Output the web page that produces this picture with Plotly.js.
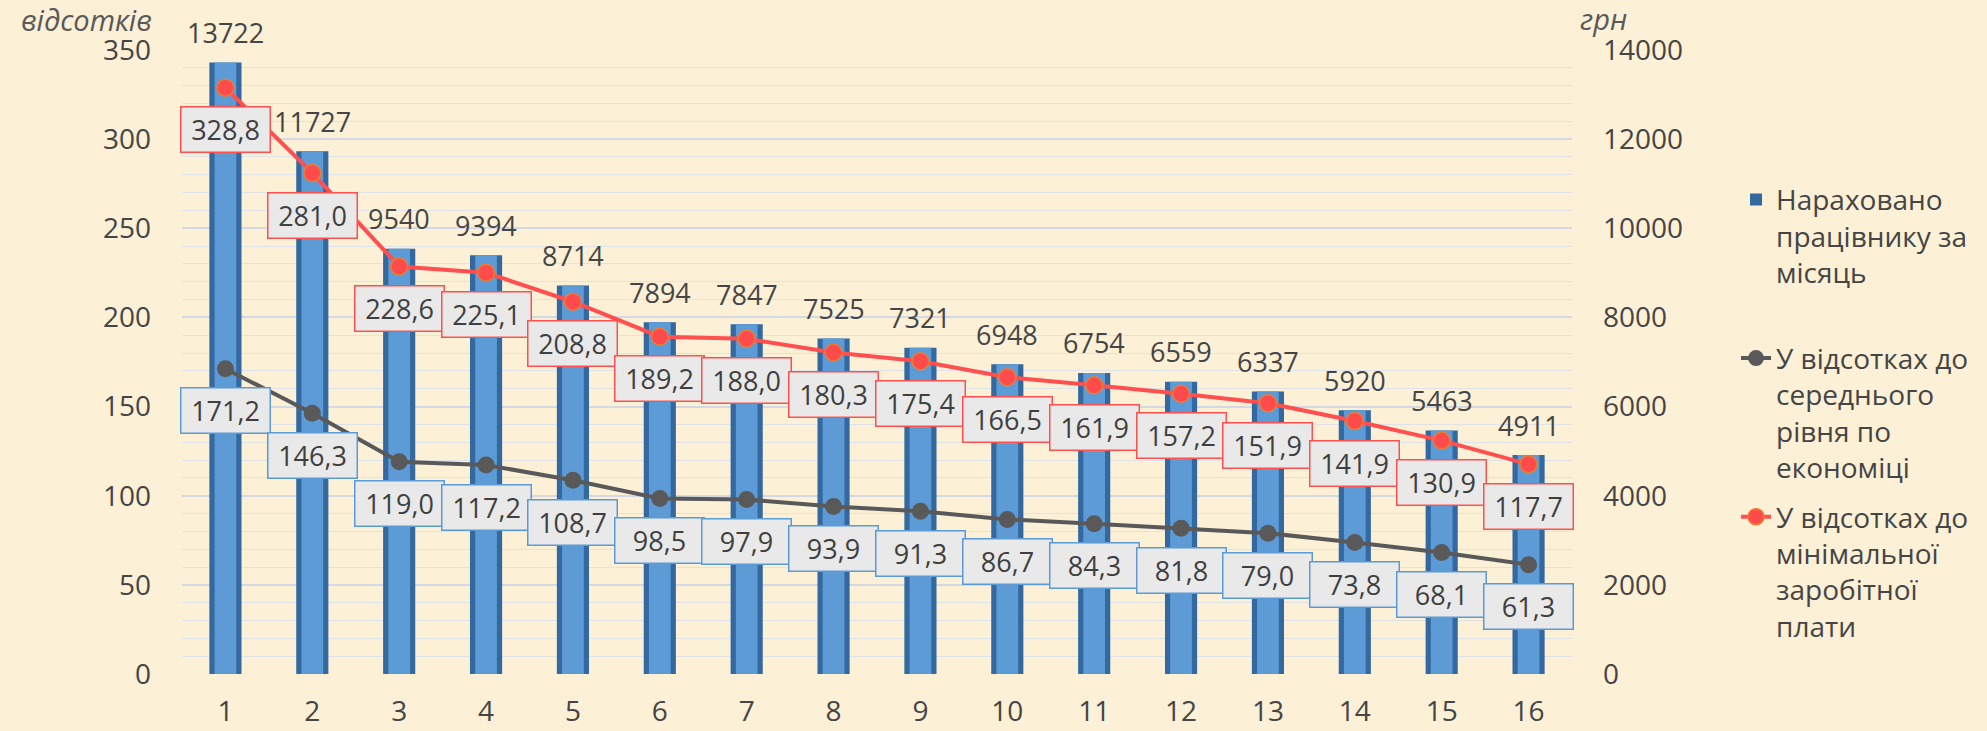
<!DOCTYPE html>
<html>
<head>
<meta charset="utf-8">
<script src="https://cdn.plot.ly/plotly-3.0.1.min.js"></script>
<style>
  html, body { margin: 0; padding: 0; background: #fcf0d6; }
  #plotArea { width: 1987px; height: 731px; }
</style>
</head>
<body>
<div id="plotArea"></div>
<script>
// categories 1..16
var cats = [1, 2, 3, 4, 5, 6, 7, 8, 9, 10, 11, 12, 13, 14, 15, 16];
// нараховано працівнику за місяць, грн
var salary = [13722, 11727, 9540, 9394, 8714, 7894, 7847, 7525, 7321, 6948, 6754, 6559, 6337, 5920, 5463, 4911];
// у відсотках до середнього рівня по економіці
var avgPct = [171.2, 146.3, 119.0, 117.2, 108.7, 98.5, 97.9, 93.9, 91.3, 86.7, 84.3, 81.8, 79.0, 73.8, 68.1, 61.3];
// у відсотках до мінімальної заробітної плати
var minPct = [328.8, 281.0, 228.6, 225.1, 208.8, 189.2, 188.0, 180.3, 175.4, 166.5, 161.9, 157.2, 151.9, 141.9, 130.9, 117.7];

var fontFam = "Open Sans, Noto Sans, sans-serif";
var txtColor = "#454545";

function fmt(v) { return v.toFixed(1).replace(".", ","); }

// bars: dark outer + lighter inner to fake the bevel
var barOuter = {
    x: cats, y: salary, type: "bar", yaxis: "y",
    width: 0.37,
    marker: {color: "#34699f"},
    name: "Нараховано<br>працівнику за<br>місяць<br> ",
    legendgroup: "a",
    hoverinfo: "y"
};
var barInner = {
    x: cats, y: salary, type: "bar", yaxis: "y",
    width: 0.25,
    marker: {color: "#5d9bd6"},
    showlegend: false,
    hoverinfo: "skip"
};
var avgLine = {
    x: cats, y: avgPct, type: "scatter", mode: "lines+markers", yaxis: "y2",
    line: {color: "#595959", width: 4},
    marker: {color: "#595959", size: 17},
    name: "У відсотках до<br>середнього<br>рівня по<br>економіці",
    legendgroup: "b"
};
var minLine = {
    x: cats, y: minPct, type: "scatter", mode: "lines+markers", yaxis: "y2",
    line: {color: "#ff4f4f", width: 4},
    marker: {color: "#ff4b4b", size: 17, line: {color: "#ee7d31", width: 1.5}},
    name: "У відсотках до<br>мінімальної<br>заробітної<br>плати",
    legendgroup: "c"
};

var annotations = [];
cats.forEach(function (c, i) {
    annotations.push({
        x: c, y: salary[i], xref: "x", yref: "y", yshift: 30,
        text: String(salary[i]), showarrow: false,
        font: {size: 27, color: txtColor, family: fontFam}
    });
    annotations.push({
        x: c, y: minPct[i], xref: "x", yref: "y2", yshift: -42,
        text: fmt(minPct[i]), showarrow: false,
        width: 76, height: 32, borderpad: 6,
        bgcolor: "#e9e9e9", bordercolor: "#ff5050", borderwidth: 1.5,
        font: {size: 27, color: "#3f3f3f", family: fontFam}
    });
    annotations.push({
        x: c, y: avgPct[i], xref: "x", yref: "y2", yshift: -42,
        text: fmt(avgPct[i]), showarrow: false,
        width: 76, height: 32, borderpad: 6,
        bgcolor: "#e9e9e9", bordercolor: "#5b9bd5", borderwidth: 1.5,
        font: {size: 27, color: "#3f3f3f", family: fontFam}
    });
});
annotations.push({
    xref: "paper", yref: "paper", x: -0.069, y: 1.0, yshift: 31, xanchor: "center", yanchor: "middle",
    text: "<i>відсотків</i>", showarrow: false,
    font: {size: 29, color: "#595959", family: fontFam}
});
annotations.push({
    xref: "paper", yref: "paper", x: 1.023, y: 1.0, yshift: 32, xanchor: "center", yanchor: "middle",
    text: "<i>грн</i>", showarrow: false,
    font: {size: 29, color: "#595959", family: fontFam}
});

var layout = {
    width: 1987, height: 731,
    paper_bgcolor: "#fcf0d6",
    plot_bgcolor: "rgba(0,0,0,0)",
    margin: {l: 182, r: 415, t: 50, b: 57},
    barmode: "overlay",
    font: {family: fontFam, size: 28, color: txtColor},
    xaxis: {
        range: [0.5, 16.5], tickmode: "array", tickvals: cats, ticktext: cats.map(String),
        showgrid: false, zeroline: false, showline: false, ticks: "",
        ticklabelstandoff: 18
    },
    yaxis: {
        side: "right", range: [0, 14000], dtick: 2000, tickformat: "d",
        showgrid: true, gridcolor: "#d3d8e2", gridwidth: 1.5,
        minor: {dtick: 400, showgrid: true, gridcolor: "#dfe2e6", gridwidth: 1},
        zeroline: false, showline: false, ticks: "",
        ticklabelstandoff: 30
    },
    yaxis2: {
        overlaying: "y", side: "left", range: [0, 350], dtick: 50,
        showgrid: false, zeroline: false, showline: false, ticks: "",
        ticklabelstandoff: 30
    },
    legend: {
        x: 1.118, y: 0.80, xanchor: "left", yanchor: "top",
        valign: "top", tracegroupgap: 10, bgcolor: "rgba(0,0,0,0)",
        font: {size: 28, color: txtColor, family: fontFam}
    },
    annotations: annotations,
    hovermode: false
};

Plotly.newPlot("plotArea", [barOuter, barInner, avgLine, minLine], layout, {displayModeBar: false});
</script>
</body>
</html>
